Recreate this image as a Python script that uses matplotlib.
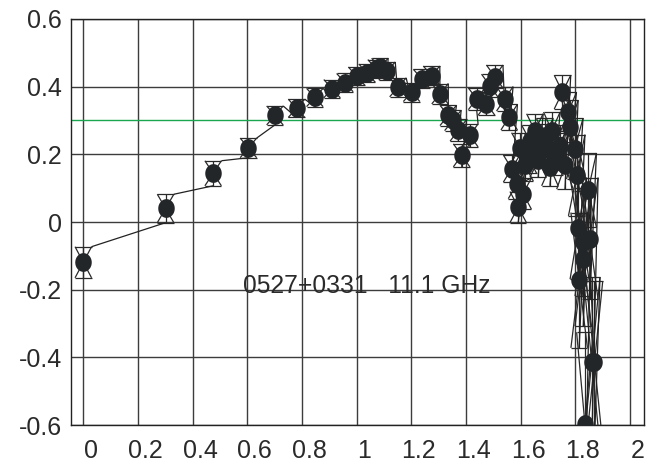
import numpy as np
import matplotlib
matplotlib.use('Agg')
import matplotlib.pyplot as plt
from matplotlib.path import Path
from matplotlib.transforms import ScaledTranslation
from matplotlib.collections import LineCollection

# ---- data ----
x = [0.000, 0.301, 0.475, 0.604, 0.701, 0.780, 0.847, 0.910, 0.957, 1.000,
     1.038, 1.071, 1.085, 1.111, 1.151, 1.201, 1.238, 1.274, 1.305, 1.335,
     1.352, 1.372, 1.384, 1.414, 1.439, 1.475, 1.487, 1.505, 1.542, 1.558,
     1.567, 1.585, 1.591, 1.597, 1.609, 1.616, 1.628, 1.634, 1.645, 1.652,
     1.664, 1.670, 1.688, 1.695, 1.707, 1.714, 1.725, 1.736, 1.743, 1.753,
     1.762, 1.774, 1.780, 1.798, 1.805, 1.811, 1.814, 1.829, 1.829, 1.835,
     1.847, 1.853, 1.860, 1.870]
y = [-0.119, 0.040, 0.144, 0.219, 0.315, 0.336, 0.368, 0.394, 0.412, 0.431,
     0.440, 0.453, 0.457, 0.446, 0.398, 0.384, 0.423, 0.433, 0.379, 0.315,
     0.300, 0.271, 0.197, 0.256, 0.364, 0.350, 0.403, 0.430, 0.364, 0.310,
     0.158, 0.111, 0.044, 0.220, 0.084, 0.167, 0.192, 0.240, 0.212, 0.270,
     0.182, 0.241, 0.254, 0.220, 0.162, 0.270, 0.195, 0.212, 0.226, 0.384,
     0.167, 0.324, 0.280, 0.217, 0.138, -0.019, -0.172, -0.108, -0.059, -0.596,
     0.094, -0.049, -0.413, -0.415]
err = [0.046, 0.042, 0.037, 0.029, 0.028, 0.027, 0.027, 0.027, 0.027, 0.027,
       0.027, 0.027, 0.027, 0.027, 0.028, 0.028, 0.028, 0.028, 0.030, 0.030,
       0.030, 0.032, 0.034, 0.034, 0.032, 0.034, 0.034, 0.034, 0.036, 0.038,
       0.040, 0.042, 0.046, 0.044, 0.046, 0.046, 0.048, 0.046, 0.048, 0.050,
       0.050, 0.050, 0.052, 0.052, 0.055, 0.055, 0.055, 0.058, 0.060, 0.050,
       0.070, 0.060, 0.080, 0.090, 0.120, 0.150, 0.200, 0.200, 0.160, 0.270,
       0.110, 0.180, 0.250, 0.240]

xticks = [0, 0.2, 0.4, 0.6, 0.8, 1.0, 1.2, 1.4, 1.6, 1.8, 2.0]
xticklabels = ['0', '0.2', '0.4', '0.6', '0.8', '1', '1.2', '1.4', '1.6', '1.8', '2']
yticks = [-0.6, -0.4, -0.2, 0, 0.2, 0.4, 0.6]
yticklabels = ['-0.6', '-0.4', '-0.2', '0', '0.2', '0.4', '0.6']
ref_level = 0.3
label_text = '0527+0331   11.1 GHz'

# ---- plotting ----
plt.rcParams['font.family'] = ['Liberation Sans', 'DejaVu Sans']
fig = plt.figure(figsize=(6.48, 4.65), dpi=100)
W, H = 648, 465
ax = fig.add_axes([70.7 / W, (H - 425) / H, (644 - 70.7) / W, (425 - 19) / H])
ax.set_xlim(-0.0461, 2.0512)
ax.set_ylim(-0.6, 0.6)

dark = '#232629'
ax.set_xticks(xticks)
ax.set_xticklabels(xticklabels)
ax.set_yticks(yticks)
ax.set_yticklabels(yticklabels)
ax.tick_params(axis='both', length=0, labelsize=18, labelcolor='#2a2a2a')
ax.tick_params(axis='x', pad=10)
ax.tick_params(axis='y', pad=6.5)
offset = ScaledTranslation(0.075, 0, fig.dpi_scale_trans)
for lab in ax.get_xticklabels():
    lab.set_transform(lab.get_transform() + offset)

ax.grid(True, color='#3c3c3c', lw=1.0, zorder=0)
ax.set_axisbelow(True)
for s in ax.spines.values():
    s.set_color('#222222')
    s.set_linewidth(1.0)

ax.axhline(ref_level, color='#1aa650', lw=1.0, zorder=1)

xa = np.array(x)
ya = np.array(y)
ea = np.array(err)
w = 0.0302

segs = []
for xi, yi, ei in zip(xa, ya, ea):
    segs.append([(xi - w, yi + ei), (xi + w, yi + ei)])
    segs.append([(xi - w, yi - ei), (xi + w, yi - ei)])
    segs.append([(xi - w, yi + ei), (xi + w, yi - ei)])
    segs.append([(xi + w, yi + ei), (xi - w, yi - ei)])
    segs.append([(xi, yi - ei), (xi, yi + ei)])
ax.add_collection(LineCollection(segs, colors='#2a2a2a', linewidths=0.9, zorder=2))

conn = []
for i in range(len(xa) - 1):
    conn.append([(xa[i] + w, ya[i] + ea[i]), (xa[i + 1], ya[i + 1] - ea[i + 1])])
ax.add_collection(LineCollection(conn, colors='#222222', linewidths=0.9, zorder=2))

t = np.linspace(0, 2 * np.pi, 60)
ell = Path(np.column_stack([0.88 * np.cos(t), np.sin(t)]))
ax.plot(xa, ya, linestyle='none', marker=ell, markersize=13.5,
        color=dark, markeredgewidth=0, zorder=3)

ax.text(1.038, -0.19, label_text, ha='center', va='center', fontsize=17.7,
        color='#2a2a2a', zorder=4)

fig.savefig('out.png', dpi=100)
